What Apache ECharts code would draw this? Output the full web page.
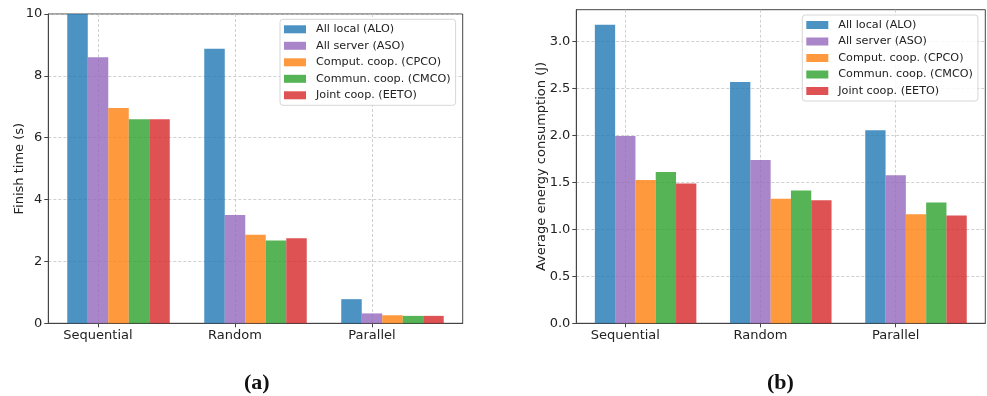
<!DOCTYPE html>
<html>
<head>
<meta charset="utf-8">
<script src="https://cdn.jsdelivr.net/npm/echarts@6/dist/echarts.min.js"></script>
<style>html,body{margin:0;padding:0;background:#fff;}#c{width:987px;height:396px;}</style>
</head>
<body>
<div id="c"></div>
<script>
const categories = ['Sequential', 'Random', 'Parallel'];
const seriesNames = ['All local (ALO)', 'All server (ASO)', 'Comput. coop. (CPCO)', 'Commun. coop. (CMCO)', 'Joint coop. (EETO)'];
const colors = ['rgba(31,119,180,0.8)', 'rgba(148,103,189,0.8)', 'rgba(255,127,14,0.8)', 'rgba(44,160,44,0.8)', 'rgba(214,39,40,0.8)'];

// (a) Finish time (s)
const finishALO  = [10.0, 8.88, 0.78];
const finishASO  = [8.60, 3.50, 0.32];
const finishCPCO = [6.96, 2.86, 0.26];
const finishCMCO = [6.60, 2.68, 0.24];
const finishEETO = [6.60, 2.75, 0.24];

// (b) Average energy consumption (J)
const energyALO  = [3.18, 2.57, 2.055];
const energyASO  = [1.995, 1.74, 1.576];
const energyCPCO = [1.525, 1.325, 1.16];
const energyCMCO = [1.61, 1.415, 1.285];
const energyEETO = [1.488, 1.31, 1.147];

const yTicksA = [0, 2, 4, 6, 8, 10];
const yTicksB = [0.0, 0.5, 1.0, 1.5, 2.0, 2.5, 3.0];

const finish = [finishALO, finishASO, finishCPCO, finishCMCO, finishEETO];
const energy = [energyALO, energyASO, energyCPCO, energyCMCO, energyEETO];

const FONT = 'DejaVu Sans';
const groupOffset = 0.15;
const xMin = -0.3625, xMax = 2.6625;

const grids = [
  {left: 48.3, top: 14, width: 414.4, height: 309.3},
  {left: 576.3, top: 9.7, width: 409, height: 313.6}
];

function xAxisFor(i) {
  return {
    type: 'value', gridIndex: i, min: xMin, max: xMax,
    axisLine: {show: true, onZero: false, lineStyle: {color: '#444', width: 1}},
    axisTick: {show: true, length: 4, customValues: [0, 1, 2], lineStyle: {color: '#444'}},
    axisLabel: {customValues: [0, 1, 2], formatter: v => categories[Math.round(v)], fontFamily: FONT, fontSize: 13, color: '#222', margin: 6},
    splitLine: {show: true, lineStyle: {color: '#c4c4c4', type: [3, 2], width: 0.8}}
  };
}

function yAxisFor(i, max, ticks, name, gap, dec) {
  return {
    type: 'value', gridIndex: i, min: 0, max: max,
    name: name, nameLocation: 'middle', nameGap: gap, nameMoveOverlap: false,
    nameTextStyle: {fontFamily: FONT, fontSize: 13, color: '#222'},
    axisLine: {show: true, onZero: false, lineStyle: {color: '#444', width: 1}},
    axisTick: {show: true, length: 4, customValues: ticks, lineStyle: {color: '#444'}},
    axisLabel: {customValues: ticks, fontFamily: FONT, fontSize: 13, color: '#222', margin: 6, formatter: v => dec ? v.toFixed(1) : String(v)},
    splitLine: {show: true, lineStyle: {color: '#c4c4c4', type: [3, 2], width: 0.8}}
  };
}

const series = [];
[finish, energy].forEach((set, gi) => {
  set.forEach((vals, si) => {
    series.push({
      type: 'bar', name: seriesNames[si], xAxisIndex: gi, yAxisIndex: gi,
      barWidth: gi === 0 ? 20.5 : 20.3, barGap: '0%',
      itemStyle: {color: colors[si]},
      data: vals.map((v, ci) => [ci + groupOffset, v])
    });
  });
});

function legendFor(left, top) {
  return {
    orient: 'vertical', left: left, top: top, data: seriesNames,
    icon: 'rect', itemWidth: 22, itemHeight: 8, itemGap: 2.5,
    padding: [3, 5, 3, 4],
    backgroundColor: 'rgba(255,255,255,0.85)', borderColor: '#d6d6d6', borderWidth: 1, borderRadius: 3,
    textStyle: {fontFamily: FONT, fontSize: 11.2, color: '#222', lineHeight: 14, padding: [0, 0, 0, 5]},
    selectedMode: false
  };
}

const chart = echarts.init(document.getElementById('c'), null, {renderer: 'canvas'});
chart.setOption({
  animation: false,
  backgroundColor: '#fff',
  grid: grids.map(g => Object.assign({show: true, borderColor: '#444', borderWidth: 1, containLabel: false}, g)),
  xAxis: [xAxisFor(0), xAxisFor(1)],
  yAxis: [
    yAxisFor(0, 10, yTicksA, 'Finish time (s)', 22.5, false),
    yAxisFor(1, 3.339, yTicksB, 'Average energy consumption (J)', 28, true)
  ],
  legend: [legendFor(280, 19.3), legendFor(802.3, 15)],
  series: series,
  graphic: [
    {type: 'text', left: 244, top: 372, style: {text: '(a)', font: 'bold 22px "Liberation Serif"', fill: '#111'}},
    {type: 'text', left: 767, top: 372, style: {text: '(b)', font: 'bold 22px "Liberation Serif"', fill: '#111'}}
  ]
});
</script>
</body>
</html>
